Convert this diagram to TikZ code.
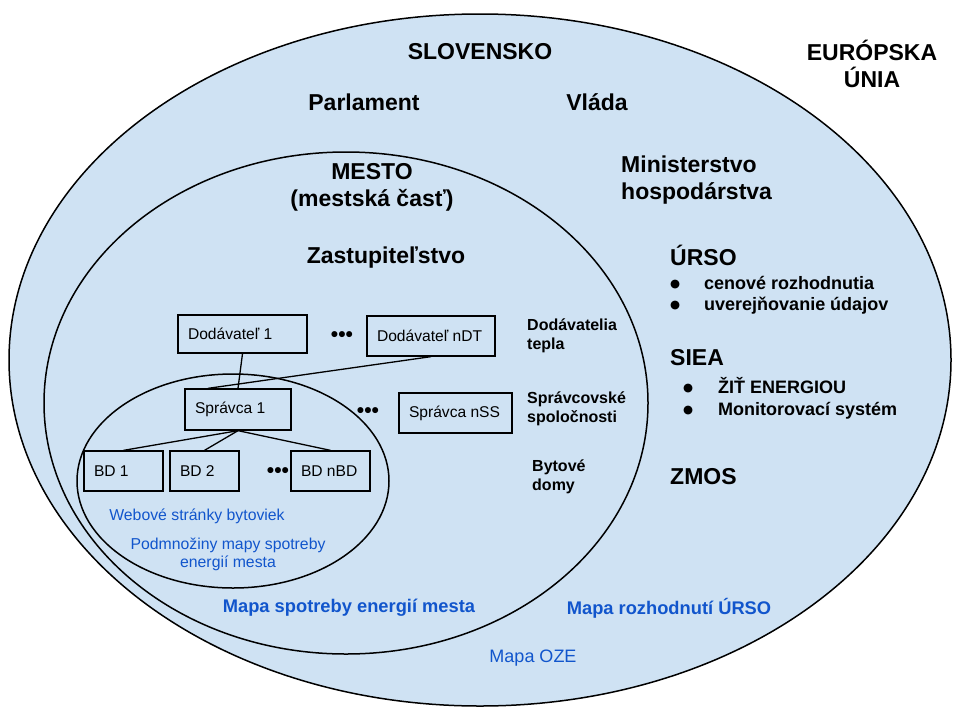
\documentclass[tikz,border=0pt]{standalone}
\usepackage{fontspec}
\setmainfont{Liberation Sans}
\newfontfamily\symbolfamily{DejaVu Sans}
\usetikzlibrary{calc}
\definecolor{regionblue}{HTML}{CFE2F3}
\definecolor{textblue}{HTML}{1155CC}
\newcommand{\bigbullet}{\raisebox{1.5pt}{\symbolfamily\fontsize{11.5}{12}\selectfont ●}}
\begin{document}
\begin{tikzpicture}[x=1pt,y=-1pt,
  region/.style={draw=black,fill=regionblue,line width=1.5pt},
  hbig/.style={font=\fontsize{23}{27}\selectfont\bfseries,inner sep=0pt,align=center},
  hmid/.style={font=\fontsize{18}{21}\selectfont\bfseries,inner sep=0pt,align=left},
  hsmall/.style={font=\fontsize{16}{18.5}\selectfont\bfseries,inner sep=0pt,align=left},
  box/.style={draw=black,fill=regionblue,line width=1.3pt,minimum height=40pt,inner xsep=10pt,inner ysep=0pt,font=\fontsize{15.6}{19}\selectfont},
  conn/.style={draw=black,line width=1.3pt},
  dotrow/.style={font=\fontsize{21}{21}\selectfont\bfseries,inner sep=0pt},
  bluetxt/.style={text=textblue,inner sep=0pt,align=center,font=\fontsize{15.8}{18}\selectfont},
  bluebold/.style={text=textblue,inner sep=0pt,font=\fontsize{18.3}{21}\selectfont\bfseries},
  bluereg/.style={text=textblue,inner sep=0pt,font=\fontsize{18}{21}\selectfont},
  ]
\useasboundingbox (0,0) rectangle (960,720);
\fill[white] (0,0) rectangle (960,720);

% regions
\draw[region] (480,360) ellipse [x radius=471pt, y radius=346pt];
\draw[region] (346,403) ellipse [x radius=302pt, y radius=251pt];
\draw[region] (233,481) ellipse [x radius=156pt, y radius=107pt];

% headings
\node[hbig] (eu) at (872,63.5) {EURÓPSKA\\ÚNIA};
\node[hbig] (sk) at (480,52) {SLOVENSKO};
\node[hbig] (parl) at (364,102) {Parlament};
\node[hbig] (vlada) at (597,102) {Vláda};
\node[hbig] (mesto) at (372,187) {MESTO\\(mestská časť)};
\node[hbig] (zast) at (386,258) {Zastupiteľstvo};
\node[hbig,anchor=west,align=left] (mh) at (621,180) {Ministerstvo\\hospodárstva};
\node[hbig,anchor=west] (urso) at (670,255) {ÚRSO};
\node[hmid,anchor=west] (ursolist) at (670,295)
  {\makebox[34pt][l]{\bigbullet}cenové rozhodnutia\\\makebox[34pt][l]{\bigbullet}uverejňovanie údajov};
\node[hbig,anchor=west] (siea) at (670,358) {SIEA};
\node[hmid,anchor=west,font=\fontsize{18}{22}\selectfont\bfseries] (siealist) at (683,398)
  {\makebox[35pt][l]{\bigbullet}ŽIŤ ENERGIOU\\\makebox[35pt][l]{\bigbullet}Monitorovací systém};
\node[hbig,anchor=west] (zmos) at (670,477) {ZMOS};

% side labels
\node[hsmall,anchor=west] (dtlab) at (527,336) {Dodávatelia\\tepla};
\node[hsmall,anchor=west] (sslab) at (527,409) {Správcovské\\spoločnosti};
\node[hsmall,anchor=west,font=\fontsize{16}{19}\selectfont\bfseries] (bdlab) at (532,476.5) {Bytové\\domy};

% boxes
\node[box,minimum height=38pt] (d1) at (242.5,334) {\makebox[109pt][l]{Dodávateľ 1}};
\node[box] (dn) at (431,336) {\makebox[108pt][l]{Dodávateľ nDT}};
\node[box,minimum height=41pt] (s1) at (238,409.5) {\makebox[86pt][l]{Správca 1}};
\node[box] (sn) at (455.5,413) {\makebox[93pt][l]{Správca nSS}};
\node[box] (b1) at (123.5,471) {\makebox[59pt][l]{BD 1}};
\node[box] (b2) at (204.5,471) {\makebox[49pt][l]{BD 2}};
\node[box] (bn) at (330.5,471) {\makebox[59pt][l]{BD nBD}};

% dots
\node[dotrow] (dots1) at (342,337) {•••};
\node[dotrow] (dots2) at (368,413) {•••};
\node[dotrow] (dots3) at (278,473) {•••};

% connectors
\draw[conn] (d1.south) -- (s1.north);
\draw[conn] (dn.south) -- ([xshift=-30pt]s1.north);
\draw[conn] (s1.south) -- (b1.north);
\draw[conn] (s1.south) -- (b2.north);
\draw[conn] (s1.south) -- (bn.north);

% blue labels
\node[bluetxt] (web) at (197,516) {Webové stránky bytoviek};
\node[bluetxt] (podm) at (228,554) {Podmnožiny mapy spotreby\\energií mesta};
\node[bluebold] (mapamesto) at (349,608) {Mapa spotreby energií mesta};
\node[bluebold] (mapaurso) at (669,608) {Mapa rozhodnutí ÚRSO};
\node[bluereg] (mapaoze) at (533,658) {Mapa OZE};
\end{tikzpicture}
\end{document}
